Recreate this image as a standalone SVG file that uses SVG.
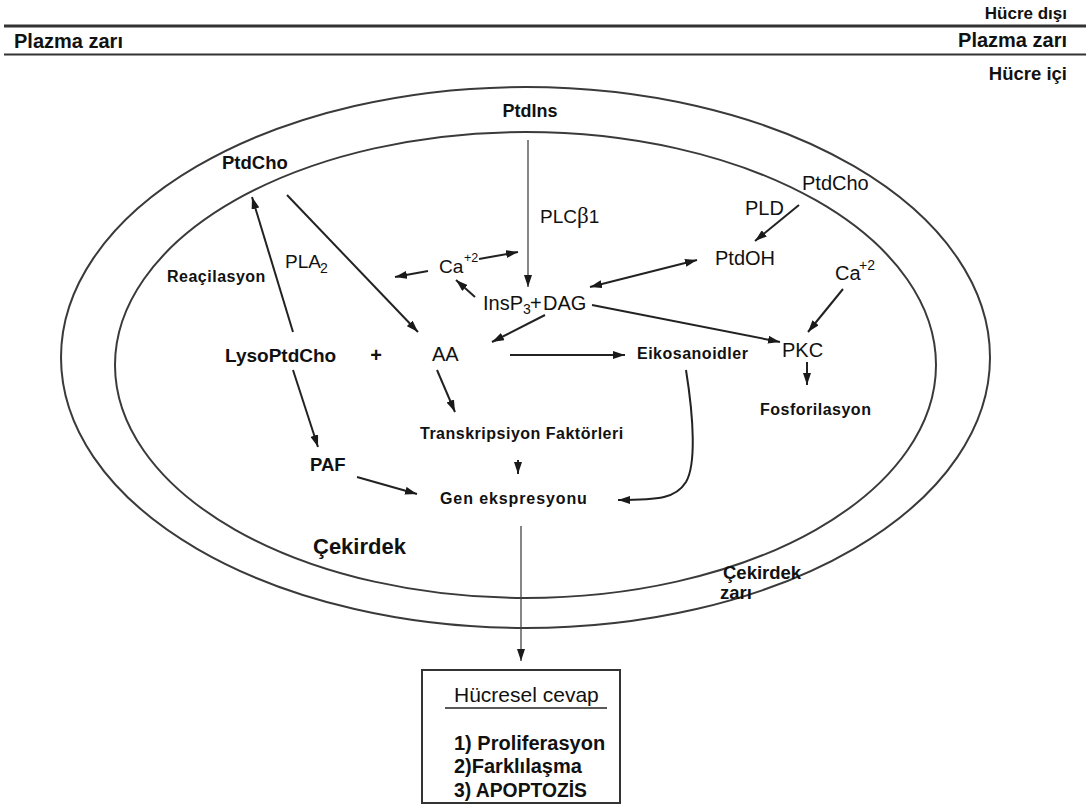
<svg xmlns="http://www.w3.org/2000/svg" width="1086" height="807" viewBox="0 0 1086 807">
  <style>
    text { font-family: "Liberation Sans", Arial, sans-serif; fill: #111; }
    .b { font-weight: bold; }
    .big { font-size: 20px; }
    .lbl { font-size: 20px; }
    .blbl { font-size: 18.5px; font-weight: bold; }
    .small { font-size: 16px; font-weight: bold; letter-spacing: 0.5px; }
    .sup { font-size: 14px; }
    .membrane { fill: none; stroke: #3a3a3a; stroke-width: 2; }
    .arrow { fill: none; stroke: #222; stroke-width: 2; marker-end: url(#head); }
    .thin { fill: none; stroke: #444; stroke-width: 1.3; marker-end: url(#head); }
    .both { marker-start: url(#head); }
  </style>
  <defs>
    <marker id="head" viewBox="0 0 12 8" refX="12" refY="4" markerWidth="12" markerHeight="8" markerUnits="userSpaceOnUse" orient="auto-start-reverse">
      <path d="M0,0 L12,4 L0,8 z" fill="#1a1a1a"/>
    </marker>
  </defs>

  <rect width="1086" height="807" fill="#fff"/>

  <!-- plasma membrane band -->
  <g id="plasma-membrane">
    <line x1="4" y1="26" x2="1086" y2="26" stroke="#333" stroke-width="3"/>
    <line x1="4" y1="54.5" x2="1086" y2="54.5" stroke="#333" stroke-width="1.8"/>
    <text class="b" x="1067" y="19" text-anchor="end" style="font-size:17px">Hücre dışı</text>
    <text class="b big" x="1067" y="47" text-anchor="end">Plazma zarı</text>
    <text class="b big" x="14" y="48">Plazma zarı</text>
    <text class="b" x="1067" y="80" text-anchor="end" style="font-size:18.5px">Hücre içi</text>
  </g>

  <!-- nuclear envelope -->
  <g id="nucleus">
    <ellipse class="membrane" cx="525.5" cy="357.5" rx="464.5" ry="270.5"/>
    <ellipse class="membrane" cx="525.5" cy="365" rx="410.5" ry="233"/>
    <text class="b" x="313" y="554" style="font-size:22px">Çekirdek</text>
    <text class="b" x="723" y="579" style="font-size:18.5px">Çekirdek</text>
    <text class="b" x="720" y="599" style="font-size:18.5px">zarı</text>
  </g>

  <!-- connectors -->
  <g id="connectors">
    <line class="thin" x1="528" y1="140" x2="528" y2="287"/>
    <line class="arrow" x1="428" y1="271" x2="395" y2="277"/>
    <line class="arrow" x1="479" y1="259" x2="518" y2="252"/>
    <line class="arrow" x1="475" y1="297" x2="456" y2="280"/>
    <line class="arrow" x1="545" y1="315" x2="492" y2="342"/>
    <line class="arrow both" x1="590" y1="287" x2="697" y2="260"/>
    <line class="arrow" x1="592" y1="305" x2="780" y2="342"/>
    <line class="arrow" x1="799" y1="205" x2="755" y2="241"/>
    <line class="arrow" x1="843" y1="289" x2="808" y2="332"/>
    <line class="arrow" x1="807" y1="362" x2="807" y2="385"/>
    <line class="arrow" x1="510" y1="355" x2="625" y2="355"/>
    <line class="arrow" x1="293" y1="332" x2="252" y2="197"/>
    <line class="arrow" x1="287" y1="195" x2="418" y2="332"/>
    <line class="arrow" x1="293" y1="370" x2="318" y2="447"/>
    <line class="arrow" x1="437" y1="370" x2="455" y2="412"/>
    <line class="arrow" x1="518" y1="460" x2="518" y2="474"/>
    <line class="arrow" x1="357" y1="477" x2="417" y2="494"/>
    <path class="arrow" d="M686,370 C694,420 696,465 686,482 C676,498 660,500 618,500"/>
    <line class="thin" x1="521" y1="526" x2="521" y2="661"/>
  </g>

  <!-- pathway nodes -->
  <g id="ptdins"><text class="b" x="530" y="116.5" text-anchor="middle" style="font-size:18px">PtdIns</text></g>
  <g id="ptdcho-left"><text class="blbl" x="222" y="168.5">PtdCho</text></g>
  <g id="ptdcho-right"><text class="lbl" x="802" y="190">PtdCho</text></g>
  <g id="plcb1"><text class="lbl" x="540" y="223" style="font-size:19px">PLC<tspan font-family="'Liberation Serif', serif" font-size="23">β</tspan>1</text></g>
  <g id="pld"><text class="lbl" x="745" y="215">PLD</text></g>
  <g id="ptdoh"><text class="lbl" x="715" y="265">PtdOH</text></g>
  <g id="ca-left">
    <text class="lbl" x="439" y="273" style="font-size:19px">Ca</text>
    <text x="464" y="262" style="font-size:12.5px">+2</text>
  </g>
  <g id="ca-right">
    <text class="lbl" x="835" y="280">Ca</text>
    <text class="sup" x="859" y="270">+2</text>
  </g>
  <g id="pla2">
    <text class="lbl" x="285" y="268" style="font-size:19px">PLA</text>
    <text class="sup" x="320" y="273">2</text>
  </g>
  <g id="reacilasyon"><text class="small" x="167" y="282">Reaçilasyon</text></g>
  <g id="insp3-dag">
    <text class="lbl" x="483" y="310">InsP</text>
    <text class="sup" x="523" y="314">3</text>
    <text class="lbl" x="530" y="310">+</text>
    <text class="lbl" x="543" y="310">DAG</text>
  </g>
  <g id="pkc"><text class="lbl" x="782" y="357">PKC</text></g>
  <g id="fosforilasyon"><text class="small" x="760" y="415">Fosforilasyon</text></g>
  <g id="lysoptdcho"><text class="b" x="225" y="362" style="font-size:19px">LysoPtdCho</text></g>
  <g id="plus"><text class="b" x="376" y="362" text-anchor="middle" style="font-size:20px">+</text></g>
  <g id="aa"><text class="lbl" x="432" y="361">AA</text></g>
  <g id="eikosanoidler"><text class="small" x="637" y="359">Eikosanoidler</text></g>
  <g id="transkripsiyon"><text class="small" x="420" y="439">Transkripsiyon Faktörleri</text></g>
  <g id="paf"><text class="blbl" x="310" y="471">PAF</text></g>
  <g id="gen"><text class="small" x="440" y="504" style="letter-spacing:0.9px">Gen ekspresyonu</text></g>

  <!-- cellular response box -->
  <g id="hucresel-cevap">
    <rect x="422" y="670" width="198" height="133" fill="#fff" stroke="#333" stroke-width="2"/>
    <text x="454" y="702" style="font-size:21px">Hücresel cevap</text>
    <line x1="445" y1="708" x2="607" y2="708" stroke="#222" stroke-width="1.5"/>
    <text class="b" x="454" y="750" style="font-size:20px">1) Proliferasyon</text>
    <text class="b" x="454" y="773" style="font-size:20px">2)Farklılaşma</text>
    <text class="b" x="454" y="797" style="font-size:20px" textLength="133" lengthAdjust="spacingAndGlyphs">3) APOPTOZİS</text>
  </g>
</svg>
